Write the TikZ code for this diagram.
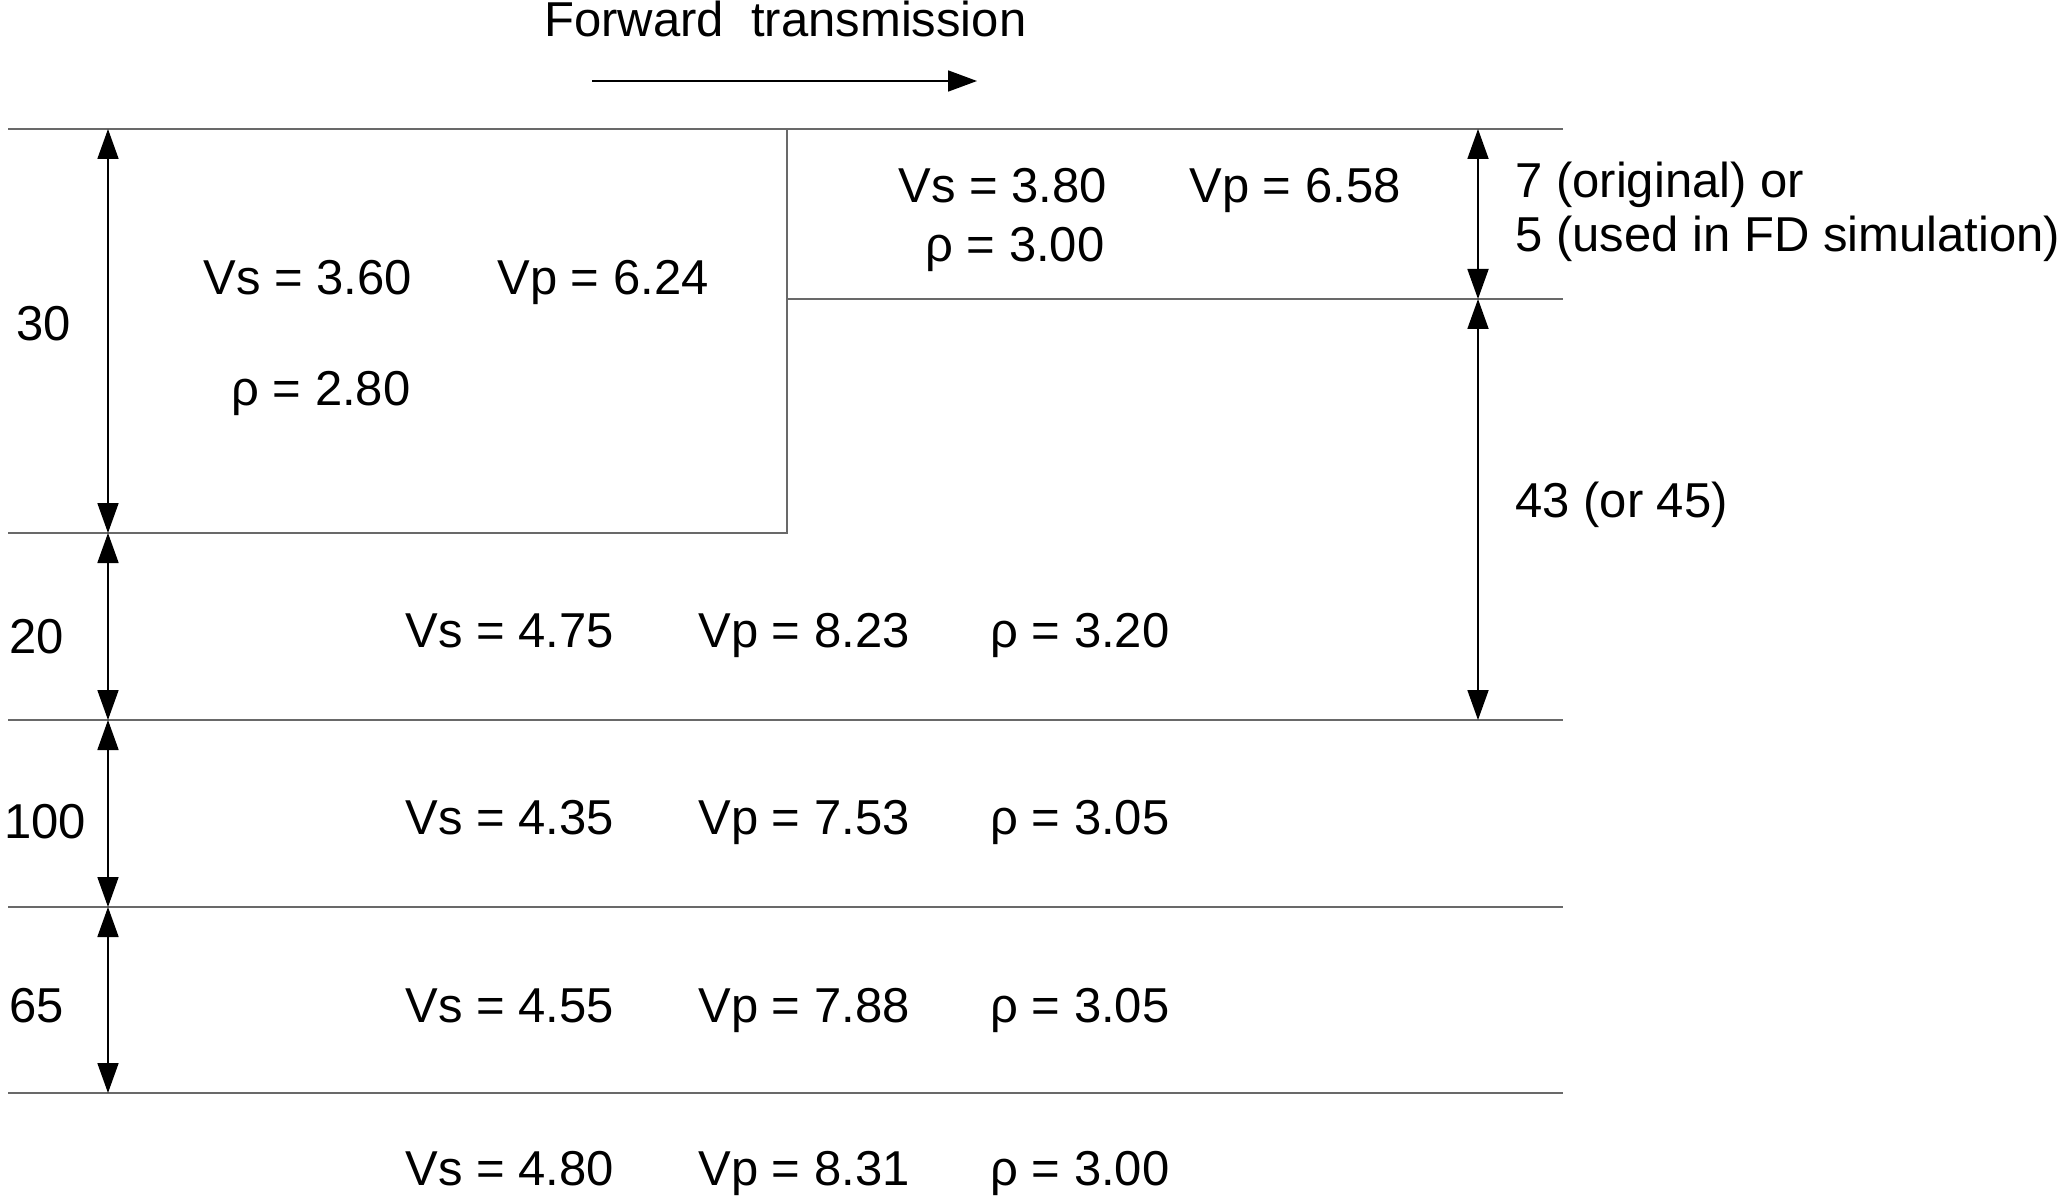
\documentclass[tikz,border=0pt]{standalone}
\usepackage{fontspec}
\setmainfont{Liberation Sans}
\usetikzlibrary{arrows.meta}
\definecolor{layerline}{RGB}{105,105,105}
\begin{document}
\begin{tikzpicture}[x=0.5pt,y=-0.5pt,
  lbl/.style={inner sep=0pt,anchor=base west,font=\fontsize{24.5}{29}\selectfont},
  clbl/.style={inner sep=0pt,anchor=base,font=\fontsize{24.5}{29}\selectfont},
  layer/.style={draw=layerline,line width=1.25pt},
  dimarrow/.style={draw=black,line width=0.9pt,{Triangle[length=15pt,width=10.5pt]}-{Triangle[length=15pt,width=10.5pt]}},
  fwdarrow/.style={draw=black,line width=0.9pt,-{Triangle[length=14.5pt,width=10.5pt]}}]
\useasboundingbox (0,0) rectangle (2067,1198);
% coordinates
\coordinate (tl) at (8,129);
\coordinate (tr) at (1563,129);
\coordinate (bx) at (787,129);
\coordinate (bxb) at (787,533);
\coordinate (l2) at (8,533);
\coordinate (m1) at (787,299);
\coordinate (m1r) at (1563,299);
\coordinate (l3) at (8,720);
\coordinate (l3r) at (1563,720);
\coordinate (l4) at (8,907);
\coordinate (l4r) at (1563,907);
\coordinate (l5) at (8,1093);
\coordinate (l5r) at (1563,1093);
% layer lines
\draw[layer] (tl) -- (tr);
\draw[layer] (bx) -- (bxb) -- (l2);
\draw[layer] (m1) -- (m1r);
\draw[layer] (l3) -- (l3r);
\draw[layer] (l4) -- (l4r);
\draw[layer] (l5) -- (l5r);
% left dimension arrows
\coordinate (a0) at (108,129);
\coordinate (a1) at (108,533);
\coordinate (a2) at (108,720);
\coordinate (a3) at (108,907);
\coordinate (a4) at (108,1093);
\draw[dimarrow] (a0) -- (a1);
\draw[dimarrow] (a1) -- (a2);
\draw[dimarrow] (a2) -- (a3);
\draw[dimarrow] (a3) -- (a4);
% right dimension arrows
\coordinate (r0) at (1478,129);
\coordinate (r1) at (1478,299);
\coordinate (r2) at (1478,720);
\draw[dimarrow] (r0) -- (r1);
\draw[dimarrow] (r1) -- (r2);
% forward arrow
\node[lbl] (fwd) at (544,37) {Forward\ \ transmission};
\coordinate (f0) at (592,81);
\coordinate (f1) at (977,81);
\draw[fwdarrow] (f0) -- (f1);
% left thickness labels
\node[clbl] (t30) at (44,341) {30};
\node[clbl] (t20) at (37,653) {20};
\node[clbl] (t100) at (45,838) {100};
\node[clbl] (t65) at (37,1022) {65};
% right labels
\node[lbl] (r7) at (1515,198) {7 (original) or};
\node[lbl] (r5) at (1515,252) {5 (used in FD simulation)};
\node[lbl] (r43) at (1515,517) {43 (or 45)};
% box left
\node[lbl] (vs1) at (203,294) {Vs = 3.60};
\node[lbl] (vp1) at (497,294) {Vp = 6.24};
\node[lbl] (rho1) at (231,405) {ρ = 2.80};
% box right
\node[lbl] (vs2) at (898,203) {Vs = 3.80};
\node[lbl] (vp2) at (1189,203) {Vp = 6.58};
\node[lbl] (rho2) at (925,262) {ρ = 3.00};
% row 20
\node[lbl] (vs3) at (405,647) {Vs = 4.75};
\node[lbl] (vp3) at (698,647) {Vp = 8.23};
\node[lbl] (rho3) at (990,647) {ρ = 3.20};
% row 100
\node[lbl] (vs4) at (405,834) {Vs = 4.35};
\node[lbl] (vp4) at (698,834) {Vp = 7.53};
\node[lbl] (rho4) at (990,834) {ρ = 3.05};
% row 65
\node[lbl] (vs5) at (405,1022) {Vs = 4.55};
\node[lbl] (vp5) at (698,1022) {Vp = 7.88};
\node[lbl] (rho5) at (990,1022) {ρ = 3.05};
% half-space
\node[lbl] (vs6) at (405,1185) {Vs = 4.80};
\node[lbl] (vp6) at (698,1185) {Vp = 8.31};
\node[lbl] (rho6) at (990,1185) {ρ = 3.00};
\end{tikzpicture}
\end{document}
